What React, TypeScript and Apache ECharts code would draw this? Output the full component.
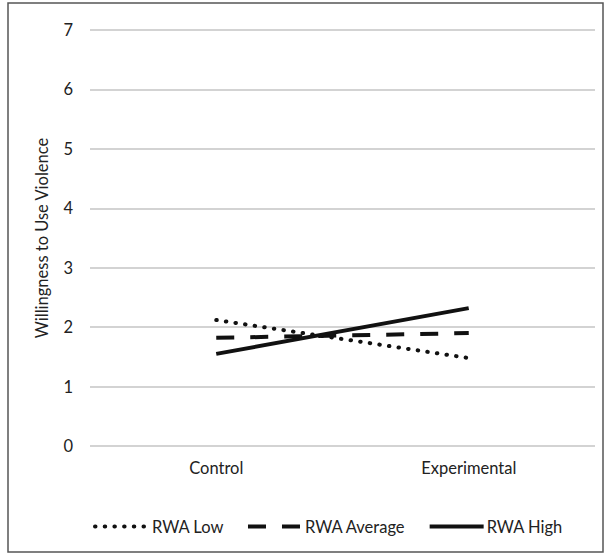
import React, { useEffect, useRef } from "react";
import * as echarts from "echarts";

const categories = ["Control", "Experimental"];
const rwaLow = [2.12, 1.48];
const rwaAverage = [1.82, 1.9];
const rwaHigh = [1.55, 2.32];
const seriesNames = ["RWA Low", "RWA Average", "RWA High"];

const FONT = "Lato, 'Open Sans', sans-serif";
const FS = 16.5;

export default function App() {
  const ref = useRef<HTMLDivElement>(null);
  useEffect(() => {
    if (!ref.current) return;
    const chart = echarts.init(ref.current, null, { renderer: "svg" });
    const lineColor = "#111111";
    chart.setOption({
      animation: false,
      backgroundColor: "#ffffff",
      textStyle: { fontFamily: FONT },
      graphic: [
        {
          type: "rect",
          shape: { x: 8, y: 3, width: 595, height: 549 },
          style: { fill: "none", stroke: "#555555", lineWidth: 1.5 },
          silent: true,
          z: -1,
        },
      ],
      grid: { left: 90, right: 10, top: 30, bottom: 108 },
      legend: {
        left: 88,
        top: 513,
        itemWidth: 54,
        itemHeight: 14,
        itemGap: 22,
        itemStyle: { opacity: 0 },
        lineStyle: { width: 4 },
        textStyle: { fontFamily: FONT, fontSize: FS, color: "#222", padding: [0, 0, 0, -2] },
        data: seriesNames,
      },
      xAxis: {
        type: "category",
        data: categories,
        boundaryGap: true,
        axisLine: { show: false },
        axisTick: { show: false },
        axisLabel: { fontFamily: FONT, fontSize: FS, color: "#222", margin: 13 },
      },
      yAxis: {
        type: "value",
        min: 0,
        max: 7,
        interval: 1,
        name: "Willingness to Use Violence",
        nameLocation: "middle",
        nameRotate: 90,
        nameGap: 40,
        nameTextStyle: { fontFamily: FONT, fontSize: FS, color: "#222" },
        axisLine: { show: false },
        axisTick: { show: false },
        axisLabel: { fontFamily: FONT, fontSize: FS, color: "#222", margin: 17 },
        splitLine: { lineStyle: { color: "#c4c4c4", width: 1.5 } },
      },
      series: [
        {
          name: seriesNames[0],
          type: "line",
          data: rwaLow,
          symbol: "none",
          color: lineColor,
          lineStyle: { color: lineColor, width: 4, type: [0.5, 9.2], cap: "round" },
        },
        {
          name: seriesNames[1],
          type: "line",
          data: rwaAverage,
          symbol: "none",
          color: lineColor,
          lineStyle: { color: lineColor, width: 4, type: [18, 16] },
        },
        {
          name: seriesNames[2],
          type: "line",
          data: rwaHigh,
          symbol: "none",
          color: lineColor,
          lineStyle: { color: lineColor, width: 4, type: "solid" },
        },
      ],
    });
    return () => chart.dispose();
  }, []);
  return (
    <div
      ref={ref}
      style={{ position: "fixed", left: 0, top: 0, width: 605, height: 554 }}
    />
  );
}
